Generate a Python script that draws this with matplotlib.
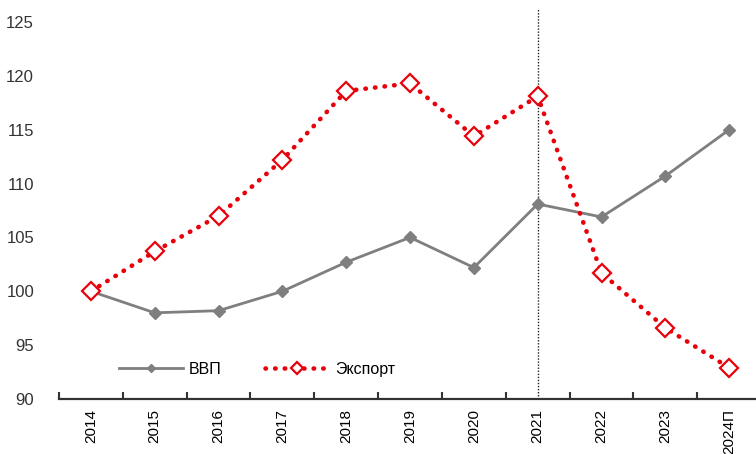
import matplotlib.pyplot as plt

plt.rcParams['font.family'] = ['Liberation Sans', 'DejaVu Sans']

years = ['2014', '2015', '2016', '2017', '2018', '2019', '2020', '2021', '2022', '2023', '2024П']
gdp = [100, 98.0, 98.2, 100.0, 102.7, 105.0, 102.2, 108.1, 106.9, 110.7, 115.0]
export = [100, 103.7, 107.0, 112.2, 118.6, 119.3, 114.4, 118.1, 101.7, 96.6, 92.9]

fig = plt.figure(figsize=(7.56, 4.54), dpi=100)
ax = fig.add_axes([59 / 756, 55 / 454, (756 - 59) / 756, (399 - 8) / 454])

x = list(range(len(years)))
ax.plot(x, gdp, color='#7f7f7f', lw=2.0, marker='D', ms=6.5, mfc='#7f7f7f', mec='#7f7f7f',
        label='ВВП', zorder=3)
ax.plot(x, export, color='#e8000b', lw=3.3, ls=(0, (0.1, 2.0)), dash_capstyle='round',
        marker='D', ms=9, mfc='white', mec='#e8000b', mew=1.6, label='Экспорт', zorder=4)

ax.axvline(7, color='#222222', lw=1, ls=(0, (1, 1.2)), zorder=2)

ax.set_yticks(range(90, 126, 5))
ax.set_xticks(x)
ax.set_xticklabels(years, rotation=90, fontsize=11)
ax.set_xticks([i + 0.5 for i in range(-1, 11)], minor=True)
ax.set_xlim(-0.5, 10.42)
ax.set_ylim(90, 126.3)
ax.tick_params(axis='x', which='major', length=0, pad=7)
ax.tick_params(axis='x', which='minor', length=5, width=1.5, direction='in', color='#333333')
ax.tick_params(axis='y', length=0, pad=18, labelsize=12)
for lab in ax.get_yticklabels():
    lab.set_color('#333333')

for s in ['top', 'right', 'left']:
    ax.spines[s].set_visible(False)
ax.spines['bottom'].set_linewidth(1.6)
ax.spines['bottom'].set_color('#333333')

ax.legend(loc='lower left', bbox_to_anchor=(0.065, 0.02), ncol=2, frameon=False,
          fontsize=11.5, handlelength=4, handletextpad=0.4, columnspacing=2.7,
          markerscale=0.7)

fig.savefig('out.png', dpi=100)
